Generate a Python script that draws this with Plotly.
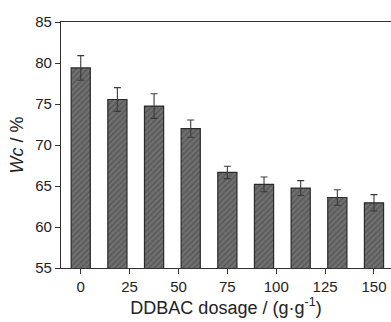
import plotly.graph_objects as go

# Data
positions = [0, 18.75, 37.5, 56.25, 75, 93.75, 112.5, 131.25, 150]
wc_values = [79.4, 75.55, 74.75, 72.0, 66.65, 65.2, 64.75, 63.6, 62.95]
wc_errors = [1.5, 1.45, 1.5, 1.05, 0.75, 0.9, 0.9, 0.95, 1.0]
tick_vals = [0, 25, 50, 75, 100, 125, 150]
tick_text = ["0", "25", "50", "75", "100", "125", "150"]

fig = go.Figure()
fig.add_trace(go.Bar(
    x=positions, y=wc_values, width=9.8,
    marker=dict(
        color="#707070",
        line=dict(color="#2a2a2a", width=1.2),
        pattern=dict(shape="/", fgcolor="#3a3a3a", bgcolor="#707070", size=4, solidity=0.35),
    ),
    error_y=dict(type="data", array=wc_errors, visible=True, color="#3a3a3a", thickness=1.1, width=3.5),
    showlegend=False,
))

FONT = "Liberation Sans, Arial, sans-serif"
axis_font = dict(family=FONT, size=15, color="#222")
title_font = dict(family=FONT, size=18, color="#222")

fig.update_layout(
    width=391, height=322,
    margin=dict(l=61, r=0, t=22, b=54),
    paper_bgcolor="white", plot_bgcolor="white",
    font=axis_font,
    xaxis=dict(
        range=[-10.1, 158.7], tickvals=tick_vals, ticktext=tick_text,
        showline=True, linecolor="#333", linewidth=1.3, mirror=True,
        ticks="outside", ticklen=5, tickcolor="#333", tickwidth=1.2,
        showgrid=False, zeroline=False, tickfont=axis_font,
        title=dict(text="DDBAC dosage / (g·g<sup>-1</sup>)", font=title_font, standoff=6),
    ),
    yaxis=dict(
        range=[55, 85], dtick=5,
        showline=True, linecolor="#333", linewidth=1.3, mirror=False,
        ticks="outside", ticklen=5, tickcolor="#333", tickwidth=1.2,
        showgrid=False, zeroline=False, tickfont=axis_font,
        title=dict(text="<i>Wc</i> / %", font=title_font, standoff=6),
    ),
)

fig.write_html("out.html")
